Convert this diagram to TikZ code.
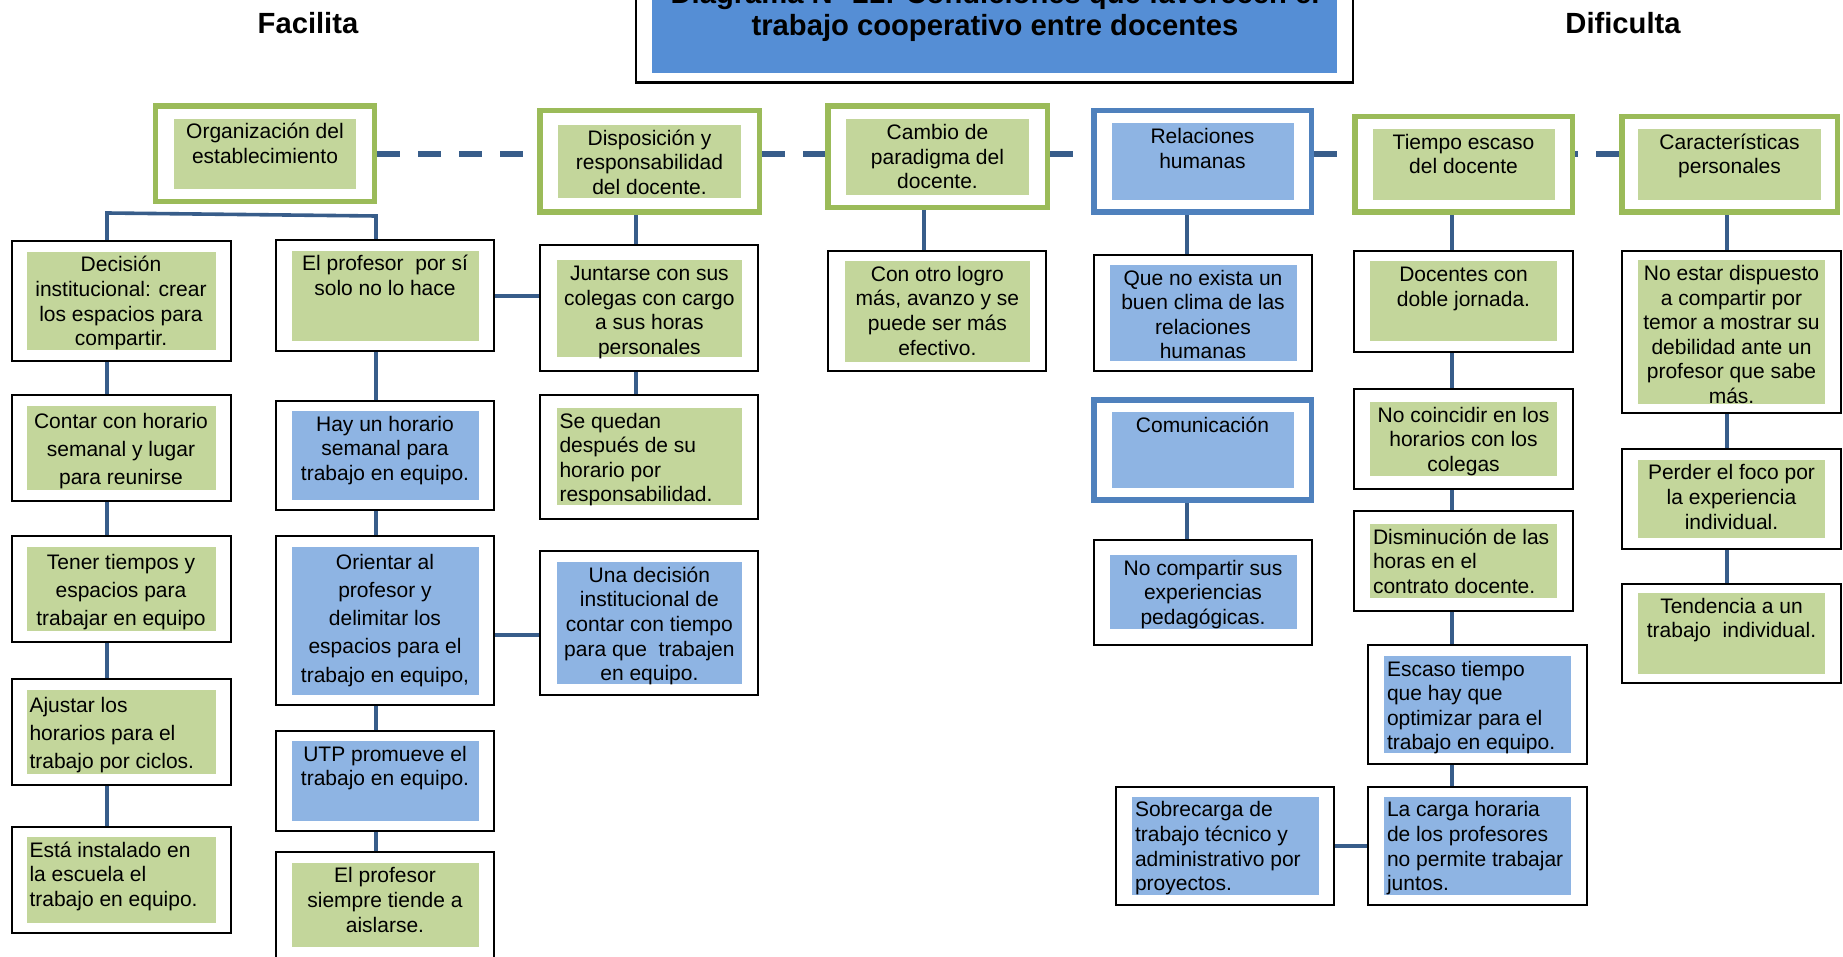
\documentclass[tikz,border=0pt]{standalone}
\usepackage{fontspec}
\setmainfont{Liberation Sans}
\usetikzlibrary{backgrounds}

\definecolor{leaf}{HTML}{C3D69B}
\definecolor{leafline}{HTML}{9BBB59}
\definecolor{sky}{HTML}{8EB4E3}
\definecolor{skyline}{HTML}{4F81BD}
\definecolor{banner}{HTML}{558ED5}
\definecolor{linkblue}{HTML}{385D8A}

\newlength{\pxu}
\setlength{\pxu}{0.5pt}
\setlength{\fboxsep}{1.5pt}
% coloured panel inside a box: [align]{colour}{width}{height}{text}
\newcommand{\inbox}[5][\centering]{%
  \colorbox{#2}{\parbox[t][\dimexpr#4\pxu-2\fboxsep\relax][t]{\dimexpr#3\pxu-2\fboxsep\relax}{#1\strut#5}}}

\tikzset{
  cell/.style={draw=black, line width=1pt, fill=white, inner sep=0pt},
  head/.style={draw=#1, line width=2.75pt, fill=white, inner sep=0pt},
  dims/.style 2 args={minimum width=#1*0.5pt, minimum height=#2*0.5pt},
  loose/.style={font=\fontsize{10.5}{14.1}\selectfont},
  bigbold/.style={font=\bfseries\fontsize{14.6}{16}\selectfont, inner sep=0pt},
  link/.style={draw=linkblue, line width=1.8pt},
  dashlink/.style={draw=linkblue, line width=2.6pt, dash pattern=on 11.5pt off 9pt},
}

\begin{document}
\begin{tikzpicture}[x=0.5pt,y=-0.5pt,font=\fontsize{10.5}{12.3}\selectfont]
   \useasboundingbox (0,0) rectangle (1843,957);

   % title block, runs off the top edge
   \path (994.4,19.3) node[cell, line width=1.4pt, dims={717}{127}] (titlebox) {\inbox{banner}{685}{107}{}};
   \path (995,11.5) node[bigbold, align=center] (title)
     {Diagrama N° 21: Condiciones que favorecen el\\trabajo cooperativo entre docentes};
   \path (308,23.5) node[bigbold] (facilita) {Facilita};
   \path (1623,23.5) node[bigbold] (dificulta) {Dificulta};

   % headings
   \path (265,154) node[head=leafline, dims={219}{95.5}] (orga)
     {\inbox{leaf}{182}{70.5}{Organización del\\establecimiento}};
   \path (649.5,161.5) node[head=leafline, dims={219.5}{101.5}] (dispo)
     {\inbox{leaf}{183.5}{73}{Disposición y\\responsabilidad\\del docente.}};
   \path (937.5,157) node[head=leafline, dims={219.5}{101.5}] (cambio)
     {\inbox{leaf}{183.6}{75.3}{Cambio de\\paradigma del\\docente.}};
   \path (1202.5,161.5) node[head=skyline, dims={217.5}{101.5}] (relac)
     {\inbox{sky}{182}{76.4}{Relaciones\\humanas}};
   \path (1463.5,164.5) node[head=leafline, dims={217.5}{95.5}] (tiempo)
     {\inbox{leaf}{182}{71}{Tiempo escaso\\del docente}};
   \path (1729.5,164.5) node[head=leafline, dims={215.5}{95.5}] (caract)
     {\inbox{leaf}{183}{71}{Características\\personales}};
   \path (1202.5,450) node[head=skyline, dims={217.5}{100.3}] (comunic)
     {\inbox{sky}{182}{76.4}{Comunicación}};

   % facilita, first column
   \path (121,301) node[cell, dims={219}{120}] (decis)
     {\inbox{leaf}{189}{98.7}{Decisión\\institucional: crear\\los espacios para\\compartir.}};
   \path (121,448) node[cell, loose, dims={219}{106}] (contar)
     {\inbox{leaf}{189}{84.6}{Contar con horario\\semanal y lugar\\para reunirse}};
   \path (121,589) node[cell, loose, dims={219}{106}] (tener)
     {\inbox{leaf}{189}{84.6}{Tener tiempos y\\espacios para\\trabajar en equipo}};
   \path (121,732) node[cell, loose, dims={219}{106}] (ajustar)
     {\inbox[\raggedright]{leaf}{189}{84.6}{Ajustar los\\horarios para el\\trabajo por ciclos.}};
   \path (121,880) node[cell, dims={219}{106}] (esta)
     {\inbox[\raggedright]{leaf}{189}{86}{Está instalado en\\la escuela el\\trabajo en equipo.}};

   % facilita, second column
   \path (385,296) node[cell, dims={218}{111}] (solo)
     {\inbox{leaf}{187}{90.5}{El profesor~ por sí\\solo no lo hace}};
   \path (385,455.5) node[cell, dims={218}{109.7}] (horario)
     {\inbox{sky}{187}{89.3}{Hay un horario\\semanal para\\trabajo en equipo.}};
   \path (385,620.6) node[cell, loose, dims={218}{169.6}] (orientar)
     {\inbox{sky}{187}{148}{Orientar al\\profesor y\\delimitar los\\espacios para el\\trabajo en equipo,}};
   \path (385,781) node[cell, dims={218}{100.3}] (utp)
     {\inbox{sky}{187}{80}{UTP promueve el\\trabajo en equipo.}};
   \path (385,905) node[cell, dims={218}{106}] (aislarse)
     {\inbox{leaf}{187}{84.6}{El profesor\\siempre tiende a\\aislarse.}};

   % facilita, third and fourth columns
   \path (649.4,308.5) node[cell, dims={218}{126}] (juntarse)
     {\inbox{leaf}{185.7}{96.4}{Juntarse con sus\\colegas con cargo\\a sus horas\\personales}};
   \path (649.4,456.7) node[cell, dims={218}{123.8}] (quedan)
     {\inbox[\raggedright]{leaf}{185.7}{97.5}{Se quedan\\después de su\\horario por\\responsabilidad.}};
   \path (649.4,623) node[cell, dims={218}{143.8}] (unadec)
     {\inbox{sky}{185.7}{122}{Una decisión\\institucional de\\contar con tiempo\\para que~ trabajen\\en equipo.}};
   \path (937.4,311.5) node[cell, dims={218}{120}] (logro)
     {\inbox{leaf}{185.8}{101}{Con otro logro\\más, avanzo y se\\puede ser más\\efectivo.}};

   % dificulta
   \path (1203,313) node[cell, dims={218}{116.7}] (clima)
     {\inbox{sky}{187}{96.4}{Que no exista un\\buen clima de las\\relaciones\\humanas}};
   \path (1203,592) node[cell, dims={218}{105}] (nocomp)
     {\inbox{sky}{187}{74}{No compartir sus\\experiencias\\pedagógicas.}};

   \path (1463.5,301.5) node[cell, dims={219}{100.3}] (doble)
     {\inbox{leaf}{187}{80}{Docentes con\\doble jornada.}};
   \path (1463.5,439) node[cell, dims={219}{100.3}] (coincid)
     {\inbox{leaf}{187}{74}{No coincidir en los\\horarios con los\\colegas}};
   \path (1463.5,561) node[cell, dims={219}{100.3}] (dismin)
     {\inbox[\raggedright]{leaf}{187}{74}{Disminución de las\\horas en el\\contrato docente.}};
   \path (1477.5,704.6) node[cell, dims={219}{119}] (escaso)
     {\inbox[\raggedright]{sky}{187}{97.5}{Escaso tiempo\\que hay que\\optimizar para el\\trabajo en equipo.}};
   \path (1477.5,846) node[cell, dims={219}{118}] (carga)
     {\inbox[\raggedright]{sky}{187}{98.7}{La carga horaria\\de los profesores\\no permite trabajar\\juntos.}};
   \path (1225.4,846) node[cell, dims={218}{118}] (sobrec)
     {\inbox[\raggedright]{sky}{186.8}{98.7}{Sobrecarga de\\trabajo técnico y\\administrativo por\\proyectos.}};

   \path (1731.5,332) node[cell, dims={219}{161.3}] (dispuesto)
     {\inbox{leaf}{187}{143.3}{No estar dispuesto\\a compartir por\\temor a mostrar su\\debilidad ante un\\profesor que sabe\\más.}};
   \path (1731.5,499) node[cell, dims={219}{100.3}] (foco)
     {\inbox{leaf}{187}{78.8}{Perder el foco por\\la experiencia\\individual.}};
   \path (1731.5,633.6) node[cell, dims={219}{99}] (tendencia)
     {\inbox{leaf}{187}{81}{Tendencia a un\\trabajo~ individual.}};

   % connectors go behind the boxes
   \coordinate (barA) at (107,213);
   \coordinate (barB) at (376,216);
   \coordinate (colC) at (636,0);
   \coordinate (colD) at (924,0);
   \coordinate (colE) at (1187,0);
   \coordinate (colF) at (1452,0);
   \coordinate (colG) at (1727,0);
   \coordinate (rowO) at (0,635);
   \begin{pgfonlayer}{background}
     \foreach \a/\b in {orga/dispo,dispo/cambio,cambio/relac,relac/tiempo}
       \draw[dashlink] (\a.east |- orga.east) -- (\b.west |- orga.east);
     \draw[dashlink] (caract.west |- orga.east) -- (tiempo.east |- orga.east);
     \draw[link] (decis.north -| barA) -- (barA) -- (barB) -- (solo.north -| barB);
     \foreach \a/\b in {decis/contar,contar/tener,tener/ajustar,ajustar/esta}
       \draw[link] (\a.south -| barA) -- (\b.north -| barA);
     \foreach \a/\b in {solo/horario,horario/orientar,orientar/utp,utp/aislarse}
       \draw[link] (\a.south -| barB) -- (\b.north -| barB);
     \foreach \a/\b in {dispo/juntarse,juntarse/quedan}
       \draw[link] (\a.south -| colC) -- (\b.north -| colC);
     \draw[link] (cambio.south -| colD) -- (logro.north -| colD);
     \foreach \a/\b in {relac/clima,comunic/nocomp}
       \draw[link] (\a.south -| colE) -- (\b.north -| colE);
     \foreach \a/\b in {tiempo/doble,doble/coincid,coincid/dismin,dismin/escaso,escaso/carga}
       \draw[link] (\a.south -| colF) -- (\b.north -| colF);
     \foreach \a/\b in {caract/dispuesto,dispuesto/foco,foco/tendencia}
       \draw[link] (\a.south -| colG) -- (\b.north -| colG);
     \draw[link] (solo.east) -- (solo.east -| juntarse.west);
     \draw[link] (orientar.east |- rowO) -- (unadec.west |- rowO);
     \draw[link] (sobrec) -- (carga);
   \end{pgfonlayer}
\end{tikzpicture}
\end{document}
